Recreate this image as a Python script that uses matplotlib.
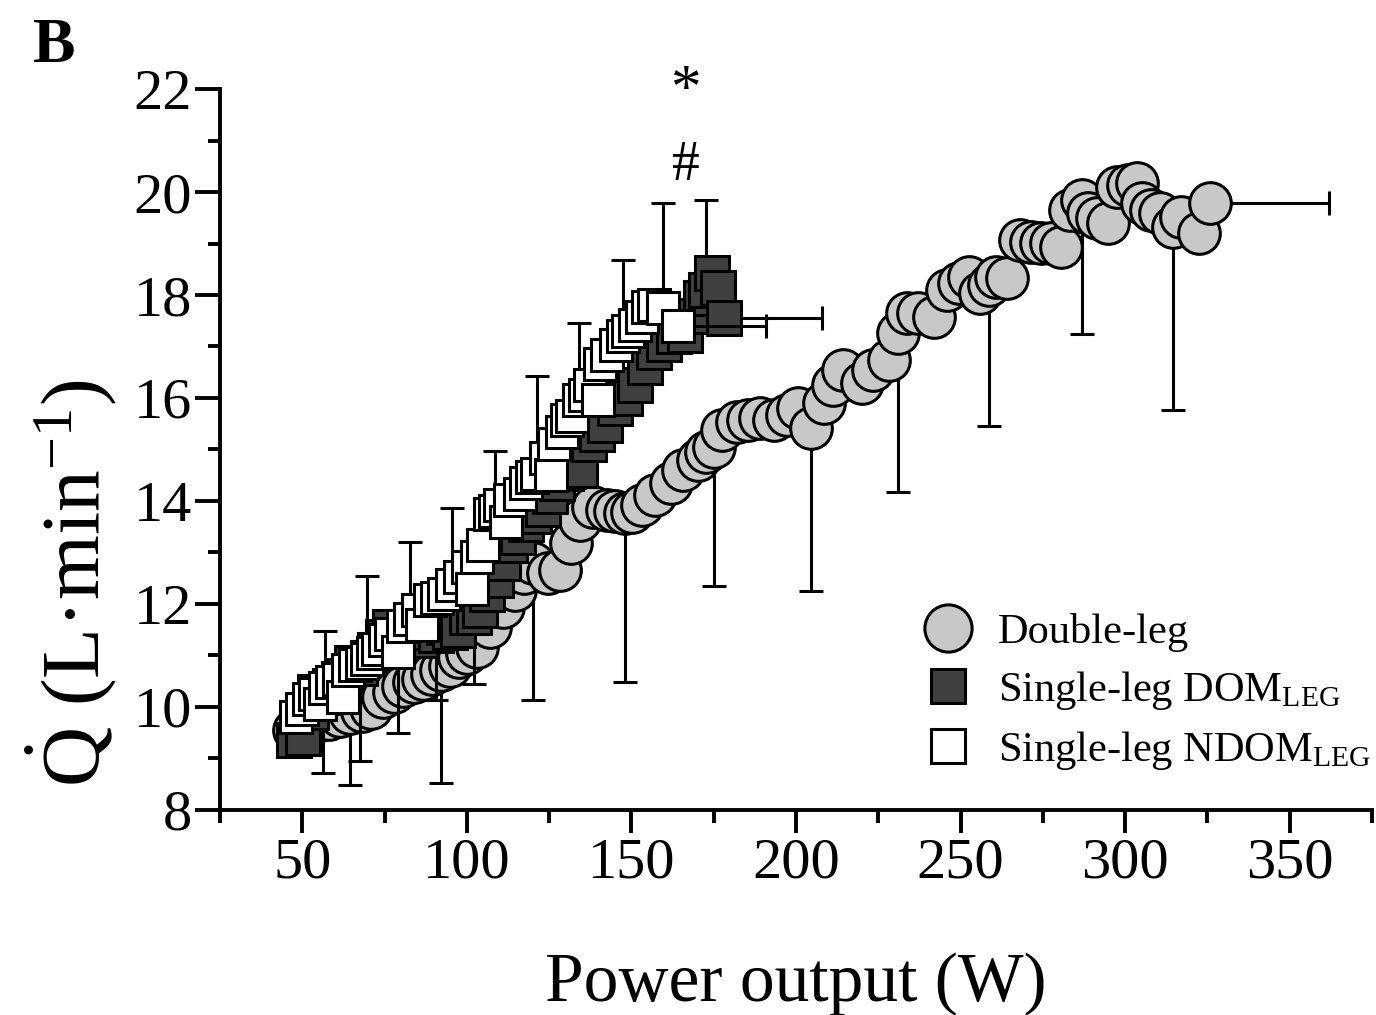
import numpy as np
import matplotlib
matplotlib.use("Agg")
import matplotlib.pyplot as plt
from matplotlib.lines import Line2D
from matplotlib.ticker import MultipleLocator, AutoMinorLocator

plt.rcParams['font.family'] = ['Liberation Serif', 'DejaVu Serif']
plt.rcParams['mathtext.fontset'] = 'custom'
plt.rcParams['mathtext.rm'] = 'Liberation Serif'
plt.rcParams['mathtext.it'] = 'Liberation Serif:italic'
plt.rcParams['mathtext.bf'] = 'Liberation Serif:bold'

# ---- double-leg (circles) ----
dl_w = [47.5, 51.0, 54.5, 58.0, 61.5, 64.6, 68.0, 71.0, 74.6, 78.0, 80.7, 84.0,
        86.8, 89.5, 92.2, 95.0, 97.5, 100.0, 103.2, 107.1, 111.1, 114.7, 117.5,
        120.2, 124.5, 128.4, 131.5, 134.5, 138.4, 142.7, 145.0, 147.9, 150.3,
        153.3, 157.3, 161.9, 165.8, 170.1, 172.5, 175.2, 177.5, 182.2, 185.3,
        189.2, 193.2, 197.4, 200.5, 204.5, 208.5, 211.1, 214.4, 219.9, 223.3,
        228.1, 230.9, 233.6, 237.2, 241.8, 246.0, 249.4, 252.7, 255.8, 258.5,
        260.9, 264.0, 267.9, 271.3, 274.3, 277.4, 280.4, 283.1, 286.8, 288.6,
        291.5, 294.7, 297.4, 300.8, 303.5, 305.0, 307.8, 310.5, 314.4, 316.9,
        322.3, 325.7]
dl_q = [9.55, 9.65, 9.72, 9.76, 9.83, 9.88, 9.92, 9.98, 10.19, 10.30, 10.40, 10.48,
        10.55, 10.65, 10.72, 10.80, 10.97, 11.05, 11.17, 11.55, 11.94, 12.27, 12.60,
        12.80, 12.60, 12.66, 13.18, 13.63, 13.88, 13.83, 13.80, 13.77, 13.79,
        13.92, 14.12, 14.35, 14.60, 14.80, 14.95, 15.05, 15.38, 15.53, 15.57,
        15.61, 15.57, 15.67, 15.81, 15.42, 15.90, 16.25, 16.54, 16.29, 16.54,
        16.74, 17.26, 17.65, 17.65, 17.57, 18.10, 18.23, 18.35, 18.04, 18.20,
        18.35, 18.33, 19.07, 19.03, 19.01, 19.01, 18.93, 19.65, 19.84, 19.59,
        19.50, 19.40, 20.10, 20.14, 20.17, 19.79, 19.65, 19.59, 19.32, 19.51,
        19.20, 19.79]
dl_bar_w = [64.6, 92.2, 120.2, 147.9, 175.2, 204.5, 230.9, 258.5, 286.8, 314.4]
dl_bar_q = [9.88, 10.72, 12.80, 13.77, 15.05, 15.42, 17.26, 18.20, 19.84, 19.32]
dl_bar_sd = [1.39, 2.20, 2.66, 3.28, 2.70, 3.17, 3.09, 2.74, 2.60, 3.55]
dl_last_sd_w = 36.2

# ---- single-leg dominant (dark squares) ----
dom_w = [47.5, 50.3, 52.5, 54.0, 56.4, 58.5, 61.0, 63.0, 65.0, 67.6, 70.0, 72.0,
         74.5, 76.7, 79.2, 81.5, 84.0, 85.9, 88.0, 90.7, 93.0, 95.0, 97.4, 100.0,
         102.3, 104.1, 106.0, 108.7, 111.0, 113.2, 115.5, 118.0, 120.5, 123.0,
         125.3, 127.5, 130.0, 133.0, 134.5, 137.0, 139.5, 142.1, 145.0, 148.0,
         151.2, 154.0, 157.0, 160.0, 163.0, 166.4, 169.0, 171.0, 172.8, 174.6,
         176.4, 178.0]
dom_q = [9.36, 9.40, 9.90, 10.29, 10.20, 10.40, 10.55, 10.60, 10.85, 10.75, 10.95, 11.10,
         11.35, 11.55, 11.25, 11.45, 11.35, 11.30, 11.45, 11.40, 11.55, 11.45, 11.50, 11.75,
         11.75, 11.88, 12.20, 12.47, 12.80, 13.15, 13.30, 13.55, 13.70, 13.85,
         14.10, 14.35, 14.55, 14.99, 14.60, 15.10, 15.30, 15.48, 15.80, 16.00,
         16.25, 16.60, 16.90, 17.05, 17.20, 17.22, 17.60, 17.95, 18.10, 18.43,
         18.14, 17.55]
dom_bar_w = [56.4, 67.6, 79.2, 90.7, 102.3]
dom_bar_q = [10.20, 10.75, 11.25, 11.40, 11.75]
dom_bar_sd = [1.48, 1.80, 1.75, 1.26, 1.30]
dom_up_w, dom_up_q, dom_up_sd = 172.8, 18.10, 1.74
dom_last_sd_w = 30.0

# ---- single-leg non-dominant (white squares) ----
ndom_w = [48.0, 50.0, 52.0, 54.0, 55.5, 57.0, 59.0, 61.0, 62.5, 64.0, 66.0, 68.0,
          69.8, 71.5, 73.0, 75.0, 77.0, 79.2, 80.5, 82.8, 85.0, 86.5, 88.9, 91.0,
          93.2, 95.6, 98.0, 100.2, 101.5, 103.2, 105.0, 107.1, 108.4, 110.2, 112.0,
          113.2, 116.0, 118.0, 119.8, 121.4, 123.9, 125.5, 126.6, 129.0, 130.5,
          132.0, 134.2, 136.0, 137.5, 139.7, 140.3, 142.7, 145.4, 147.3, 149.0,
          151.0, 153.3, 154.9, 157.0, 159.7, 164.0]
ndom_q = [9.80, 9.96, 10.15, 10.25, 10.05, 10.37, 10.49, 10.55, 10.20, 10.72, 10.82, 10.85,
          10.93, 11.05, 11.13, 11.30, 11.42, 11.07, 11.58, 11.71, 11.88, 11.60, 12.08, 12.12,
          12.19, 12.37, 12.52, 12.72, 12.30, 12.91, 13.15, 13.75, 13.80, 13.92, 13.60,
          14.02, 14.14, 14.35, 14.47, 14.52, 14.83, 14.50, 15.11, 15.34, 15.57,
          15.65, 15.96, 16.05, 16.25, 15.96, 16.66, 16.83, 17.03, 17.20, 17.30,
          17.42, 17.57, 17.77, 17.81, 17.75, 17.40]
ndom_bar_w = [57.0, 69.8, 82.8, 95.6, 108.4, 121.4, 134.2, 147.3, 159.7]
ndom_bar_q = [10.37, 10.93, 11.71, 12.37, 13.80, 14.52, 15.96, 17.20, 17.75]
ndom_bar_sd = [1.11, 1.61, 1.49, 1.49, 1.17, 1.91, 1.50, 1.48, 2.04]
ndom_last_sd_w = 27.0

grey = '#c8c8c8'
dark = '#404040'
lw = 2.2
ebar = dict(fmt='none', ecolor='black', elinewidth=lw, capsize=8.5, capthick=lw)

fig = plt.figure(figsize=(13.76, 10.15), dpi=100)
ax = fig.add_axes([0.1599, 0.2020, 0.8372, 0.7103])

# double-leg
n = len(dl_bar_w)
ax.errorbar(dl_bar_w, dl_bar_q, yerr=[dl_bar_sd, np.zeros(n)], zorder=2, **ebar)
ax.errorbar([dl_w[-1]], [dl_q[-1]], xerr=[[0], [dl_last_sd_w]], zorder=2, **ebar)
ax.plot(dl_w, dl_q, ls='none', marker='o', ms=30, mfc=grey, mec='black', mew=lw, zorder=3)

# dominant leg
n = len(dom_bar_w)
ax.errorbar(dom_bar_w, dom_bar_q, yerr=[dom_bar_sd, np.zeros(n)], zorder=4, **ebar)
ax.errorbar([dom_up_w], [dom_up_q], yerr=[[0], [dom_up_sd]], zorder=4, **ebar)
ax.errorbar([dom_w[-1]], [dom_q[-1]], xerr=[[0], [dom_last_sd_w]], zorder=4, **ebar)
ax.plot(dom_w, dom_q, ls='none', marker='s', ms=24, mfc=dark, mec='black', mew=lw, zorder=5)

# non-dominant leg
n = len(ndom_bar_w)
ax.errorbar(ndom_bar_w, ndom_bar_q, yerr=[np.zeros(n), ndom_bar_sd], zorder=6, **ebar)
ax.errorbar([ndom_w[-1]], [ndom_q[-1]], xerr=[[0], [ndom_last_sd_w]], zorder=6, **ebar)
ax.plot(ndom_w, ndom_q, ls='none', marker='s', ms=23, mfc='white', mec='black', mew=lw, zorder=7)

ax.set_xlim(25, 375)
ax.set_ylim(8, 22)
ax.xaxis.set_major_locator(MultipleLocator(50))
ax.xaxis.set_minor_locator(AutoMinorLocator(2))
ax.yaxis.set_major_locator(MultipleLocator(2))
ax.yaxis.set_minor_locator(AutoMinorLocator(2))
for s in ['top', 'right']:
    ax.spines[s].set_visible(False)
for s in ['left', 'bottom']:
    ax.spines[s].set_linewidth(2.8)
ax.tick_params(which='both', direction='out', width=2.8, labelsize=42)
ax.tick_params(axis='x', which='major', length=16.5, pad=3)
ax.tick_params(axis='y', which='major', length=18, pad=2)
ax.tick_params(which='minor', length=9)

ax.set_xlabel('Power output (W)', fontsize=50)
ax.xaxis.set_label_coords(0.5, -0.197)
ax.set_ylabel(r'$\dot{\mathrm{Q}}$ (L·min$^{\mathrm{-1}}$)', fontsize=60)
ax.yaxis.set_label_coords(-0.088, 0.315)

ax.text(166.4, 21.95, '*', fontsize=44, ha='center', va='center', clip_on=False)
ax.text(166.4, 20.5, '#', fontsize=40, ha='center', va='center', clip_on=False)
fig.text(0.024, 0.954, 'B', fontsize=46, fontweight='bold', ha='left', va='center')

handles = [
    Line2D([], [], ls='none', marker='o', ms=34, mfc=grey, mec='black', mew=lw),
    Line2D([], [], ls='none', marker='s', ms=24.5, mfc=dark, mec='black', mew=lw),
    Line2D([], [], ls='none', marker='s', ms=24.5, mfc='white', mec='black', mew=lw),
]
labels = ['Double-leg', r'Single-leg DOM$_{\mathrm{LEG}}$', r'Single-leg NDOM$_{\mathrm{LEG}}$']
ax.legend(handles, labels, loc='upper left', bbox_to_anchor=(923 / 1376, 1 - 613 / 1015),
          bbox_transform=fig.transFigure, frameon=False, fontsize=30.5,
          handlelength=1.2, handletextpad=0.57, labelspacing=0.4,
          borderpad=0, borderaxespad=0)

fig.savefig('out.png', dpi=100)
